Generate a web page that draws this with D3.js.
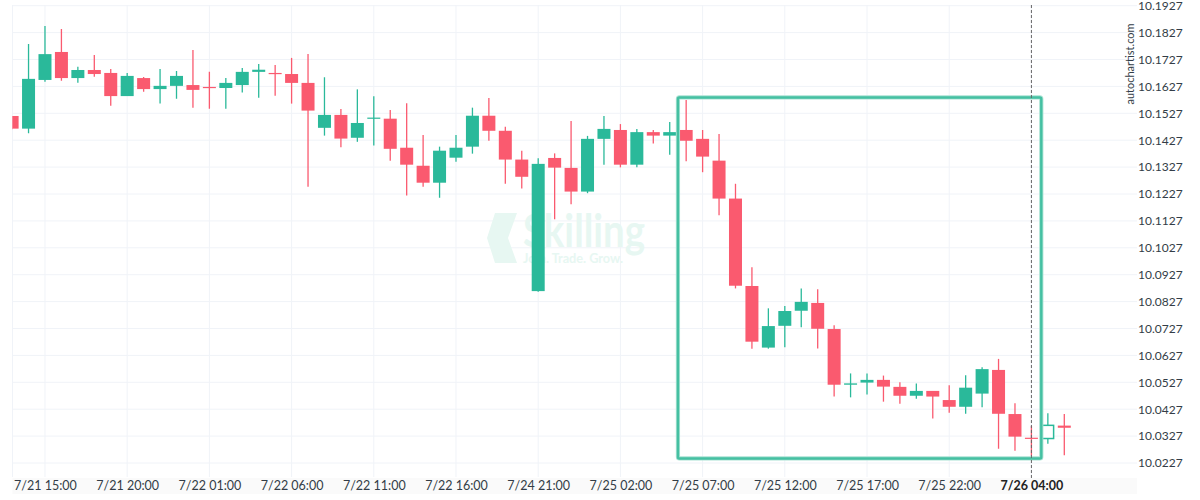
<!DOCTYPE html>
<html><head><meta charset="utf-8">
<script src="https://cdn.jsdelivr.net/npm/d3@7"></script>
<style>body{margin:0;background:#fff}svg{display:block}</style>
</head><body>
<svg id="c" width="1200" height="500"></svg>
<script>
const opens = [
10.1517,10.1470,10.1651,10.1755,10.1658,10.1688,10.1677,10.1591,10.1658,10.1617,
10.1629,10.1632,10.1625,10.1621,10.1632,10.1681,10.1677,10.1673,10.1640,10.1473,
10.1521,10.1436,10.1507,10.1507,10.1399,10.1332,10.1269,10.1362,10.1403,10.1518,
10.1462,10.1355,10.0866,10.1361,10.1324,10.1236,10.1432,10.1465,10.1336,10.1457,
10.1444,10.1465,10.1432,10.1351,10.1210,10.0885,10.0656,10.0737,10.0793,10.0822,
10.0725,10.0518,10.0526,10.0536,10.0510,10.0477,10.0495,10.0461,10.0436,10.0485,
10.0573,10.0409,10.0321,10.0318,10.0366];
const closes = [
10.1470,10.1655,10.1747,10.1658,10.1688,10.1673,10.1591,10.1666,10.1617,10.1629,
10.1666,10.1614,10.1621,10.1640,10.1681,10.1689,10.1674,10.1640,10.1537,10.1521,
10.1433,10.1491,10.1511,10.1395,10.1336,10.1269,10.1388,10.1399,10.1518,10.1462,
10.1355,10.1291,10.1339,10.1325,10.1236,10.1432,10.1469,10.1336,10.1457,10.1444,
10.1457,10.1425,10.1366,10.1210,10.0886,10.0678,10.0736,10.0792,10.0826,10.0726,
10.0518,10.0523,10.0536,10.0511,10.0477,10.0495,10.0474,10.0436,10.0507,10.0576,
10.0410,10.0325,10.0318,10.0367,10.0358];
const highs = [
10.1517,10.1785,10.1852,10.1840,10.1700,10.1744,10.1692,10.1677,10.1662,10.1692,
10.1684,10.1762,10.1681,10.1658,10.1695,10.1710,10.1707,10.1733,10.1747,10.1661,
10.1543,10.1616,10.1590,10.1539,10.1564,10.1446,10.1403,10.1446,10.1548,10.1584,
10.1477,10.1388,10.1360,10.1378,10.1498,10.1443,10.1517,10.1487,10.1469,10.1465,
10.1495,10.1576,10.1465,10.1450,10.1265,10.0955,10.0802,10.0811,10.0876,10.0873,
10.0739,10.0560,10.0560,10.0552,10.0527,10.0523,10.0495,10.0516,10.0553,10.0583,
10.0614,10.0449,10.0365,10.0412,10.0409];
const lows = [
10.1468,10.1453,10.1644,10.1648,10.1641,10.1663,10.1555,10.1591,10.1607,10.1563,
10.1581,10.1548,10.1544,10.1544,10.1604,10.1585,10.1592,10.1563,10.1254,10.1444,
10.1401,10.1421,10.1407,10.1351,10.1221,10.1254,10.1213,10.1347,10.1377,10.1425,
10.1265,10.1247,10.0864,10.1133,10.1189,10.1230,10.1336,10.1326,10.1326,10.1415,
10.1373,10.1349,10.1308,10.1148,10.0876,10.0652,10.0652,10.0657,10.0732,10.0653,
10.0474,10.0471,10.0482,10.0455,10.0447,10.0466,10.0392,10.0414,10.0410,10.0434,
10.0280,10.0273,10.0254,10.0299,10.0256];
const hollowIdx = [63];

const yTicks = [10.0227,10.0327,10.0427,10.0527,10.0627,10.0727,10.0827,10.0927,10.1027,
  10.1127,10.1227,10.1327,10.1427,10.1527,10.1627,10.1727,10.1827,10.1927];
const xTickIdx = [2,7,12,17,22,27,32,37,42,47,52,57,62];
const xTickLabels = ["7/21 15:00","7/21 20:00","7/22 01:00","7/22 06:00","7/22 11:00","7/22 16:00",
  "7/24 21:00","7/25 02:00","7/25 07:00","7/25 12:00","7/25 17:00","7/25 22:00","7/26 04:00"];
const currentIdx = 62;
// pattern rectangle (index range and price range)
const patternIdx = [40.5, 62.6];
const patternPrice = [10.0244, 10.1586];

const W = 1200, H = 500;
const plotL = 12.5, plotR = 1137, plotT = 0, plotB = 478;
const GREEN = "#2ab99a", RED = "#fa5a6f", GRID = "#f0f3f8", TXT = "#333d47";

const svg = d3.select("#c");
const x = d3.scaleLinear().domain([0, 64]).range([12.1, 1064.3]);
const y = d3.scaleLinear().domain([10.0227, 10.1927]).range([463.0, 5.7]);

// x label strip
svg.append("rect").attr("x", plotL).attr("y", 478).attr("width", plotR - plotL).attr("height", 16).attr("fill", "#fafafa");

svg.append("defs").append("clipPath").attr("id", "clip")
  .append("rect").attr("x", plotL).attr("y", plotT).attr("width", plotR - plotL).attr("height", plotB - plotT);

// grid
const grid = svg.append("g");
grid.selectAll("line.h").data(yTicks).join("line")
  .attr("x1", plotL).attr("x2", plotR).attr("y1", d => y(d)).attr("y2", d => y(d))
  .attr("stroke", GRID).attr("stroke-width", 1);
grid.selectAll("line.v").data(xTickIdx).join("line")
  .attr("x1", d => x(d)).attr("x2", d => x(d)).attr("y1", 5).attr("y2", 477)
  .attr("stroke", GRID).attr("stroke-width", 1);
grid.append("line").attr("x1", plotL).attr("x2", plotL).attr("y1", 5).attr("y2", 477)
  .attr("stroke", GRID);

// watermark
const wm = svg.append("g").attr("fill", "#e7f7f2");
wm.append("polygon").attr("points", "495,213 517,213 508,238 517,263 495,263 487,238");
wm.append("text").attr("x", 523).attr("y", 247).attr("font-family", "Lato, sans-serif")
  .attr("font-size", 46).attr("font-weight", 700).attr("textLength", 122).attr("lengthAdjust", "spacingAndGlyphs")
  .text("Skilling");
wm.append("text").attr("x", 523).attr("y", 263).attr("font-family", "Lato, sans-serif")
  .attr("font-size", 13).attr("font-weight", 700).attr("textLength", 100).attr("lengthAdjust", "spacingAndGlyphs")
  .text("Join. Trade. Grow.");

// candles
const idx = d3.range(opens.length);
const cg = svg.append("g").attr("clip-path", "url(#clip)");
const bw = 13;
cg.selectAll("line.w").data(idx).join("line")
  .attr("x1", i => x(i)).attr("x2", i => x(i))
  .attr("y1", i => y(highs[i])).attr("y2", i => y(lows[i]))
  .attr("stroke", i => closes[i] >= opens[i] ? GREEN : RED).attr("stroke-width", 1.3);
cg.selectAll("rect.b").data(idx).join("rect")
  .attr("x", i => hollowIdx.includes(i) ? x(i) - bw / 2 + 0.75 : x(i) - bw / 2)
  .attr("width", i => hollowIdx.includes(i) ? bw - 1.5 : bw)
  .attr("y", i => y(Math.max(opens[i], closes[i])))
  .attr("height", i => Math.max(1.2, y(Math.min(opens[i], closes[i])) - y(Math.max(opens[i], closes[i]))))
  .attr("fill", i => hollowIdx.includes(i) ? "#fff" : (closes[i] >= opens[i] ? GREEN : RED))
  .attr("stroke", i => hollowIdx.includes(i) ? GREEN : "none")
  .attr("stroke-width", 1.5);

// pattern box
const bx0 = x(patternIdx[0]), bx1 = x(patternIdx[1]);
const by0 = y(patternPrice[1]), by1 = y(patternPrice[0]);
svg.append("rect").attr("x", bx0).attr("y", by0).attr("width", bx1 - bx0).attr("height", by1 - by0)
  .attr("rx", 1.5).attr("fill", "none").attr("stroke", "#a9e2d3").attr("stroke-width", 4.2);
svg.append("rect").attr("x", bx0).attr("y", by0).attr("width", bx1 - bx0).attr("height", by1 - by0)
  .attr("rx", 1.5).attr("fill", "none").attr("stroke", "#45c0a2").attr("stroke-width", 2.4);

// current time dashed line
svg.append("line").attr("x1", x(currentIdx)).attr("x2", x(currentIdx)).attr("y1", 5).attr("y2", 478)
  .attr("stroke", "#666").attr("stroke-width", 1).attr("stroke-dasharray", "3,2");

// y axis
const ya = svg.append("g").attr("transform", `translate(1137,0)`)
  .call(d3.axisRight(y).tickValues(yTicks).tickFormat(d3.format(".4f")).tickSize(0).tickPadding(1));
ya.select(".domain").remove();
ya.selectAll("text").attr("font-family", "Lato, sans-serif").attr("font-size", 12).attr("fill", TXT);

// x axis
const xa = svg.append("g").attr("transform", `translate(0,478)`)
  .call(d3.axisBottom(x).tickValues(xTickIdx).tickFormat((d, i) => xTickLabels[i]).tickSize(0).tickPadding(3.5));
xa.select(".domain").remove();
xa.selectAll("text").attr("font-family", "Lato, sans-serif").attr("font-size", 12.5).attr("fill", TXT)
  .attr("font-weight", d => d === currentIdx ? 700 : 400)
  .attr("fill", d => d === currentIdx ? "#222" : TXT);

// vertical brand text
svg.append("text").attr("transform", "translate(1134,64) rotate(-90)")
  .attr("text-anchor", "middle").attr("font-family", "Lato, sans-serif").attr("font-size", 11)
  .attr("fill", TXT).text("autochartist.com");
</script>
</body></html>
